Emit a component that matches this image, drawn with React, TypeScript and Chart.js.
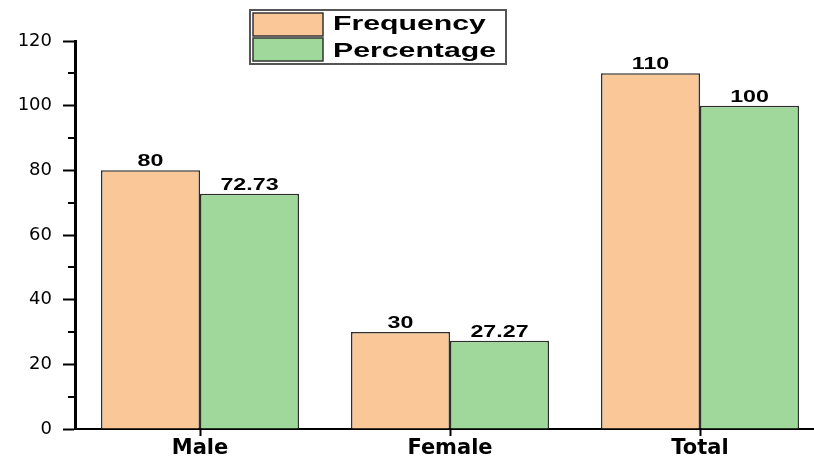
import React, { useEffect, useRef } from "react";
import { Chart, registerables } from "chart.js";

Chart.register(...registerables);

const categories = ["Male", "Female", "Total"];
const frequency = [80, 30, 110];
const percentage = [72.73, 27.27, 100];
const seriesNames = ["Frequency", "Percentage"];
const yTicks = { min: 0, max: 120, step: 20 };

const ORANGE = "#FAC898";
const GREEN = "#A0D89C";

const overlayPlugin = {
  id: "overlay",
  afterDatasetsDraw(chart: any) {
    const ctx = chart.ctx as CanvasRenderingContext2D;
    // value labels
    chart.data.datasets.forEach((ds: any, di: number) => {
      const meta = chart.getDatasetMeta(di);
      meta.data.forEach((el: any, i: number) => {
        const txt = String(ds.data[i]);
        ctx.save();
        ctx.translate(el.x, el.y - 4);
        ctx.scale(1.45, 1);
        ctx.font = 'bold 16px "Liberation Sans", Arial, sans-serif';
        ctx.textAlign = "center";
        ctx.textBaseline = "alphabetic";
        ctx.fillStyle = "#000";
        ctx.fillText(txt, 0, 0);
        ctx.restore();
      });
    });
    // minor ticks on y axis
    const y = chart.scales.y;
    const left = chart.chartArea.left;
    ctx.save();
    ctx.strokeStyle = "#000";
    ctx.lineWidth = 2;
    for (let v = yTicks.min + yTicks.step / 2; v < yTicks.max; v += yTicks.step) {
      const py = Math.round(y.getPixelForValue(v));
      ctx.beginPath();
      ctx.moveTo(left - 7, py);
      ctx.lineTo(left, py);
      ctx.stroke();
    }
    ctx.restore();
    // legend
    ctx.save();
    ctx.fillStyle = "#fff";
    ctx.fillRect(250, 10, 256, 54);
    ctx.strokeStyle = "#555";
    ctx.lineWidth = 2;
    ctx.strokeRect(250, 10, 256, 54);
    const colors = [ORANGE, GREEN];
    const swY = [13, 38];
    const txtY = [30, 57];
    for (let k = 0; k < 2; k++) {
      ctx.fillStyle = colors[k];
      ctx.fillRect(253, swY[k], 70, 23);
      ctx.strokeStyle = "#333";
      ctx.lineWidth = 1.5;
      ctx.strokeRect(253, swY[k], 70, 23);
      ctx.save();
      ctx.translate(333, txtY[k]);
      ctx.scale(1.44, 1);
      ctx.font = 'bold 21px "Liberation Sans", Arial, sans-serif';
      ctx.textAlign = "left";
      ctx.textBaseline = "alphabetic";
      ctx.fillStyle = "#000";
      ctx.fillText(seriesNames[k], 0, 0);
      ctx.restore();
    }
    ctx.restore();
  },
};

export default function App() {
  const ref = useRef<HTMLCanvasElement | null>(null);
  useEffect(() => {
    if (!ref.current) return;
    const chart = new Chart(ref.current, {
      type: "bar",
      data: {
        labels: categories,
        datasets: [
          {
            label: seriesNames[0],
            data: frequency,
            backgroundColor: ORANGE,
            borderColor: "#2e2e2e",
            borderWidth: 1.5,
            barPercentage: 1,
            categoryPercentage: 0.792,
          },
          {
            label: seriesNames[1],
            data: percentage,
            backgroundColor: GREEN,
            borderColor: "#2e2e2e",
            borderWidth: 1.5,
            barPercentage: 1,
            categoryPercentage: 0.792,
          },
        ],
      },
      options: {
        responsive: false,
        animation: false,
        layout: { padding: { top: 41, right: 7, left: 0, bottom: 0 } },
        plugins: { legend: { display: false }, tooltip: { enabled: false } },
        scales: {
          x: {
            offset: true,
            grid: {
              offset: false,
              drawOnChartArea: false,
              drawTicks: true,
              tickLength: 7,
              tickWidth: 2,
              tickColor: "#000",
            },
            border: { display: true, color: "#000", width: 2 },
            ticks: {
              font: { family: "DejaVu Sans", size: 21, weight: "bold" },
              color: "#000",
              padding: 0,
            },
            afterFit: (s: any) => {
              s.height = 31;
            },
          },
          y: {
            min: yTicks.min,
            max: yTicks.max,
            ticks: {
              stepSize: yTicks.step,
              font: { family: "DejaVu Sans", size: 18 },
              color: "#000",
              padding: 11,
            },
            grid: {
              drawOnChartArea: false,
              tickLength: 12,
              tickWidth: 2,
              tickColor: "#000",
            },
            border: { display: true, color: "#000", width: 3 },
            afterFit: (s: any) => {
              s.width = 75;
            },
          },
        },
      } as any,
      plugins: [overlayPlugin],
    });
    return () => chart.destroy();
  }, []);
  return (
    <div style={{ position: "fixed", inset: 0, overflow: "hidden", background: "#fff" }}>
      <canvas ref={ref} width={832} height={460} style={{ display: "block", width: 832, height: 460 }} />
    </div>
  );
}
